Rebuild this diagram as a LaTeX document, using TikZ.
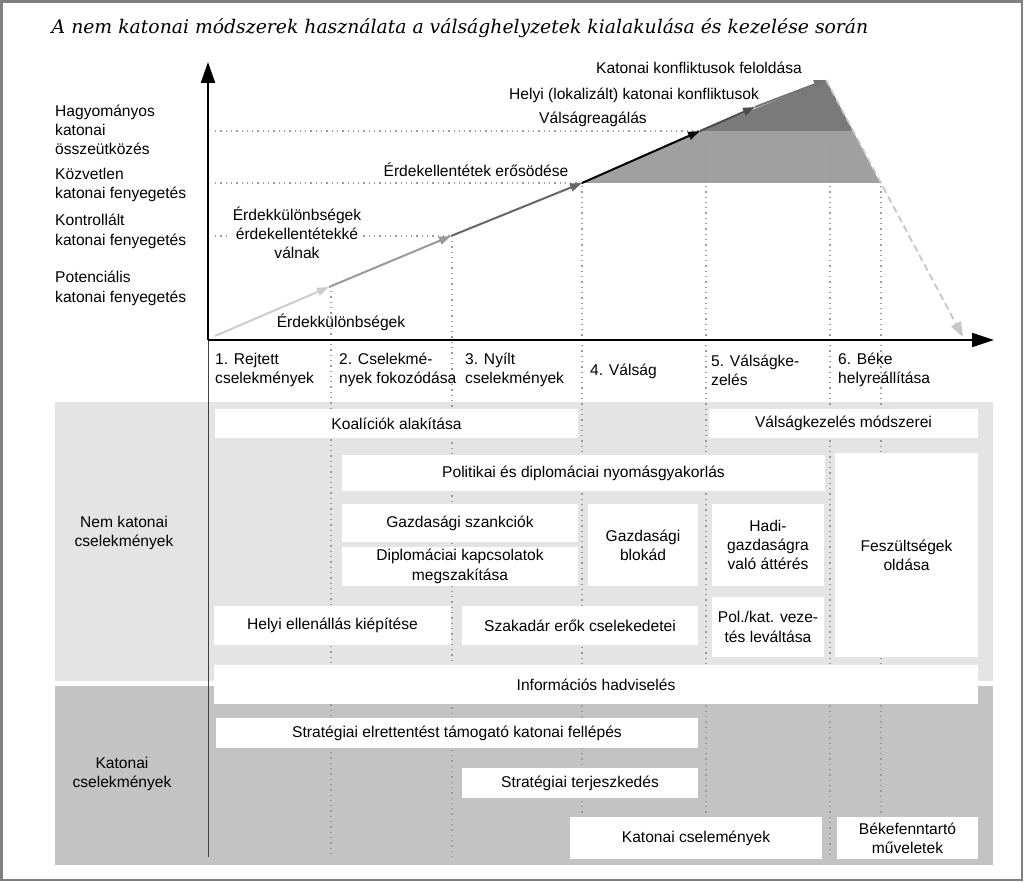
\documentclass[tikz,border=0pt]{standalone}
\usepackage{fontspec}
\setmainfont{Liberation Sans}
\newfontfamily\titlefont{DejaVu Serif}
\usetikzlibrary{arrows.meta}

\definecolor{lightpanel}{HTML}{E4E4E4}
\definecolor{darkpanel}{HTML}{C3C3C3}
\definecolor{midfill}{HTML}{A0A0A0}
\definecolor{darkfill}{HTML}{7A7A7A}
\definecolor{dotgray}{HTML}{9A9A9A}

\begin{document}
\begin{tikzpicture}[x=1pt,y=-1pt,
  every node/.style={font=\fontsize{15.6}{19.3}\selectfont, inner sep=0pt},
  cbox/.style={fill=white, align=center},
  lbl/.style={align=left, anchor=west},
  dots/.style={dotgray, line width=1.3pt, dash pattern=on 1.3pt off 4pt},
  trend/.style={line width=2pt, ->, >={Triangle[length=12pt,width=8pt]}},
  dashline/.style={gray!45, line width=1.8pt, dash pattern=on 7pt off 4pt, ->, >={Triangle[length=15pt,width=11pt]}}]
\useasboundingbox (0,0) rectangle (1024,882);
\draw[gray, line width=2.5pt] (1.5,1.5) rectangle (1022,880);

% title
\node (title) at (460,28) {\titlefont\itshape\fontsize{18.8}{22}\selectfont A nem katonai módszerek használata a válsághelyzetek kialakulása és kezelése során};

% panels
\fill[lightpanel] (55,402) rectangle (993,681);
\fill[darkpanel] (55,686) rectangle (993,865);

% trend points
\coordinate (O) at (208,340);
\coordinate (p0) at (215,336);
\coordinate (p1) at (329,287);
\coordinate (p2) at (451,236);
\coordinate (p3) at (582,183);
\coordinate (p4) at (700,131);
\coordinate (p5) at (755,107);
\coordinate (p6) at (826,80);
\coordinate (c1) at (853,131);
\coordinate (c2) at (880,183);
\coordinate (dend) at (963,337);

\fill[midfill] (p3) -- (p4) -- (c1) -- (c2) -- cycle;
\fill[darkfill] (p4) -- (p6) -- (c1) -- cycle;

% dotted guides
\coordinate (h1) at (215,131);
\coordinate (h2) at (215,183);
\coordinate (h3) at (215,236);
\draw[dots] (h1) -- (p4);
\draw[dots] (h2) -- (p3);
\draw[dots] (h3) -- (p2);
\foreach \x/\y in {331/291, 452/241, 582/186, 706/133, 830/133, 881/186} {
 \draw[dots] (\x,\y) -- (\x,857);
}

% axes
\coordinate (xend) at (994,340);
\coordinate (yend) at (208,62);
\coordinate (ybot) at (208,857);
\draw[gray!50!black, line width=1pt] (O) -- (ybot);
\draw[black, line width=2.2pt, -{Triangle[length=22pt,width=14pt]}] (O) -- (xend);
\draw[black, line width=2.2pt, -{Triangle[length=21pt,width=14pt]}] (O) -- (yend);

% trend line
\draw[trend, gray!40] (p0) -- (p1);
\draw[trend, gray!80] (p1) -- (p2);
\draw[trend, black!60] (p2) -- (p3);
\draw[trend, black] (p3) -- (p4);
\draw[trend, black!70] (p4) -- (p5);
\draw[trend, black!55] (p5) -- (p6);
\draw[dashline] (p6) -- (dend);

% level labels
\node[lbl] (hagy) at (55,130) {Hagyományos\\katonai\\összeütközés};
\node[lbl] (kozv) at (55,185) {Közvetlen\\katonai fenyegetés};
\node[lbl] (kontr) at (55,231.5) {Kontrollált\\katonai fenyegetés};
\node[lbl] (poten) at (55,288.5) {Potenciális\\katonai fenyegetés};

% trend labels
\node (erdk) at (341,322) {Érdekkülönbségek};
\node[align=center, fill=white, inner sep=2pt] (erdkell) at (297,233) {Érdekkülönbségek\\érdekellentétekké\\válnak};
\node (erdell) at (476,170) {Érdekellentétek erősödése};
\node (vreag) at (593,119) {Válságreagálás};
\node (helyik) at (634,95) {Helyi (lokalizált) katonai konfliktusok};
\node (kfel) at (699,68) {Katonai konfliktusok feloldása};

% phases
\node[lbl] (ph1) at (215,370) {1. Rejtett\\cselekmények};
\node[lbl] (ph2) at (339,370) {2. Cselekmé-\\nyek fokozódása};
\node[lbl] (ph3) at (465,370) {3. Nyílt\\cselekmények};
\node[lbl] (ph4) at (590,371) {4. Válság};
\node[lbl] (ph5) at (711,370) {5. Válságke-\\zelés};
\node[lbl] (ph6) at (838,370) {6. Béke\\helyreállítása};

% section labels
\node[align=center] (nemkat) at (124,533) {Nem katonai\\cselekmények};
\node[align=center] (kat) at (122,774) {Katonai\\cselekmények};

% boxes
\node[cbox, minimum width=363pt, minimum height=29pt] (koal) at (396.5,423.5) {Koalíciók alakítása};
\node[cbox, minimum width=269pt, minimum height=29pt] (vmod) at (843.5,423.5) {Válságkezelés módszerei};
\node[cbox, minimum width=483pt, minimum height=36pt] (polit) at (583.5,473) {Politikai és diplomáciai nyomásgyakorlás};
\node[cbox, minimum width=236pt, minimum height=38pt] (gszank) at (460,523) {Gazdasági szankciók};
\node[cbox, minimum width=236pt, minimum height=39pt] (dipl) at (460,566.5) {Diplomáciai kapcsolatok\\megszakítása};
\node[cbox, minimum width=110pt, minimum height=82pt] (gblok) at (643,545) {Gazdasági\\blokád};
\node[cbox, minimum width=112pt, minimum height=82pt] (hadi) at (768,545) {Hadi-\\gazdaságra\\való áttérés};
\node[cbox, minimum width=143pt, minimum height=204pt] (fesz) at (906.5,555) {Feszültségek\\oldása};
\node[cbox, minimum width=237pt, minimum height=39pt] (helyi) at (332.5,625.5) {Helyi ellenállás kiépítése};
\node[cbox, minimum width=236pt, minimum height=39pt] (szak) at (580,625.5) {Szakadár erők cselekedetei};
\node[cbox, minimum width=112pt, minimum height=60pt] (polkat) at (768,627) {Pol./kat. veze-\\tés leváltása};
\node[cbox, minimum width=764pt, minimum height=39pt] (info) at (596,684.5) {Információs hadviselés};
\node[cbox, minimum width=482pt, minimum height=30pt] (strat) at (457,733) {Stratégiai elrettentést támogató katonai fellépés};
\node[cbox, minimum width=236pt, minimum height=30pt] (terj) at (580,783) {Stratégiai terjeszkedés};
\node[cbox, minimum width=252pt, minimum height=42pt] (katcs) at (696,838) {Katonai cselemények};
\node[cbox, minimum width=141pt, minimum height=42pt] (beke) at (907.5,838) {Békefenntartó\\műveletek};
\end{tikzpicture}
\end{document}
